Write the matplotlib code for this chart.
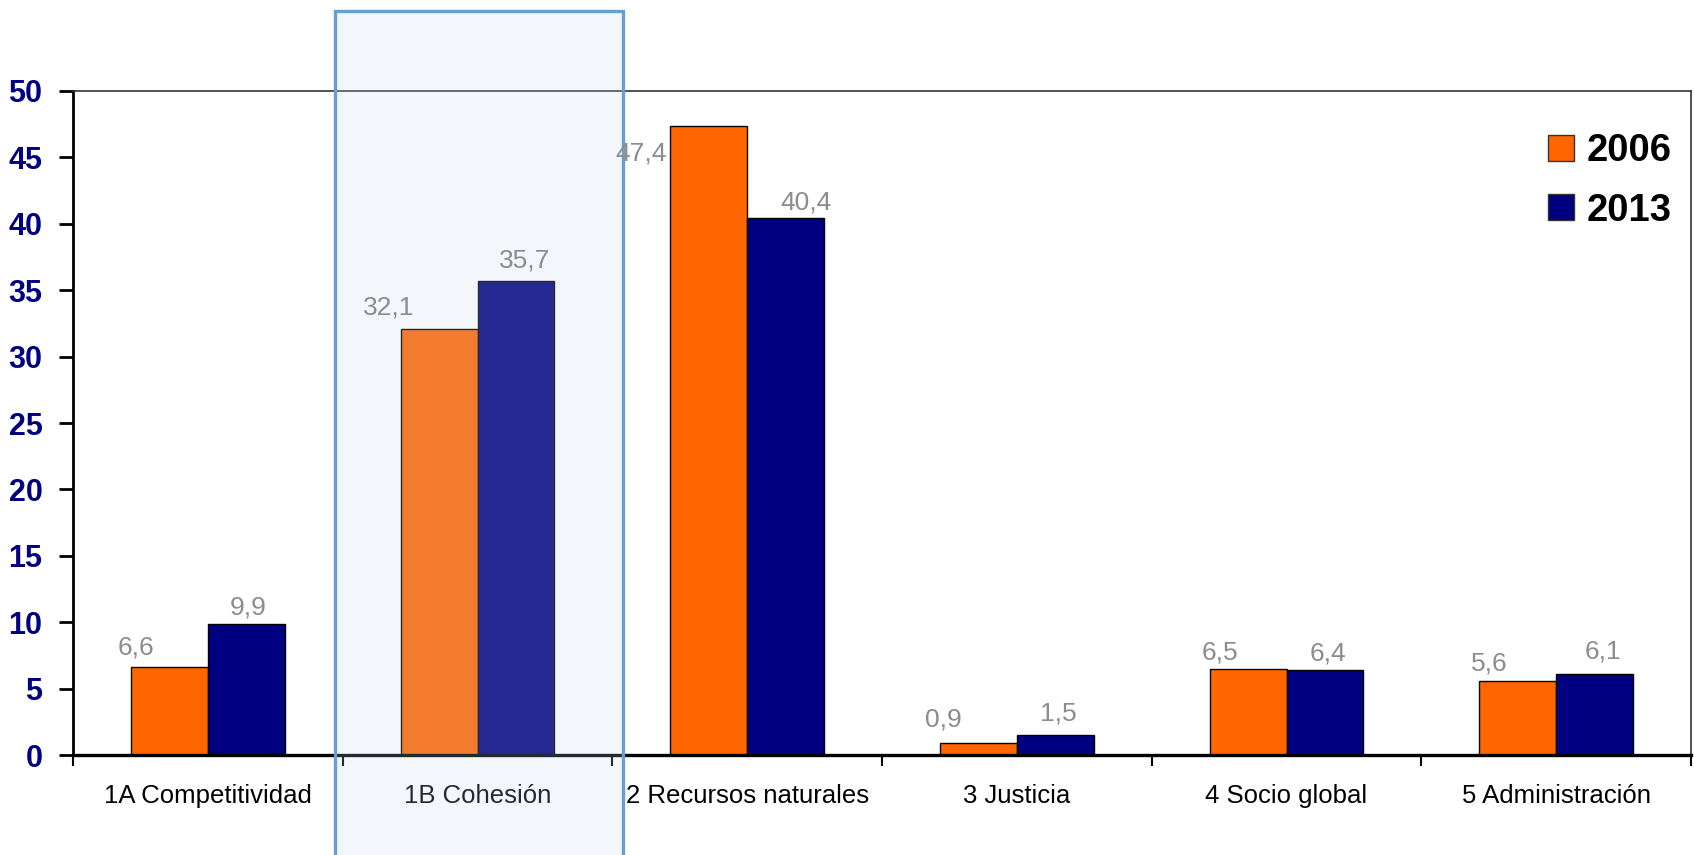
import matplotlib
matplotlib.use("Agg")
import matplotlib.pyplot as plt
from matplotlib.patches import Rectangle, Patch
import numpy as np

# ----------------------------------------------------------------------------------------------------------------------
#  DATA
# ----------------------------------------------------------------------------------------------------------------------
categories  = ['1A Competitividad', '1B Cohesión', '2 Recursos naturales',
               '3 Justicia', '4 Socio global', '5 Administración']
values_2006 = [6.6, 32.1, 47.4, 0.9, 6.5, 5.6]
values_2013 = [9.9, 35.7, 40.4, 1.5, 6.4, 6.1]
series_names = ['2006', '2013']
y_ticks      = [0, 5, 10, 15, 20, 25, 30, 35, 40, 45, 50]
highlight_index = 1

# label offsets (pixels) relative to the top centre of each bar
offsets_2006 = [(-33, 20), (-50, 21), (-68, -28), (-35, 24), (-28, 16), (-28, 17)]
offsets_2013 = [(2, 16), (9, 20), (20, 16), (3, 22), (3, 17), (8, 22)]

# ----------------------------------------------------------------------------------------------------------------------
#  STYLE
# ----------------------------------------------------------------------------------------------------------------------
plt.rcParams['font.family'] = ['Liberation Sans', 'DejaVu Sans']

color_2006  = '#FF6600'
color_2013  = '#000080'
label_color = '#8C8C8C'
tick_color  = '#000080'
bar_width   = 0.285

fig = plt.figure(figsize=(16.94, 8.55), dpi=100)
ax  = fig.add_axes([73/1694, 1 - 755/855, (1691 - 73)/1694, (755 - 91)/855])

x = np.arange(len(categories)) + 0.5

bars_1 = ax.bar(x - bar_width/2, values_2006, bar_width, color=color_2006,
                edgecolor='black', linewidth=1.0, zorder=2, label=series_names[0])
bars_2 = ax.bar(x + bar_width/2, values_2013, bar_width, color=color_2013,
                edgecolor='black', linewidth=1.0, zorder=2, label=series_names[1])

for bars, offs in ((bars_1, offsets_2006), (bars_2, offsets_2013)):
    for b, (dx, dy) in zip(bars, offs):
        val = b.get_height()
        ax.annotate(f'{val:.1f}'.replace('.', ','),
                    xy=(b.get_x() + b.get_width()/2, val),
                    xytext=(dx, dy), textcoords='offset pixels',
                    ha='center', va='center', fontsize=19,
                    color=label_color, zorder=5)

ax.set_xlim(0, len(categories))
ax.set_ylim(0, 50)

# category boundaries as major ticks, names as minor ticks
ax.set_xticks(np.arange(len(categories) + 1))
ax.set_xticklabels([])
ax.set_xticks(x, minor=True)
ax.set_xticklabels(categories, minor=True, fontsize=18.5)
ax.tick_params(axis='x', which='major', direction='out', length=8, width=1.5)
ax.tick_params(axis='x', which='minor', length=0, pad=21)

ax.set_yticks(y_ticks)
ax.set_yticklabels([str(v) for v in y_ticks], fontsize=22, fontweight='bold', color=tick_color)
ax.tick_params(axis='y', direction='out', length=10, width=2, pad=12)

for side in ['top', 'right']:
    ax.spines[side].set_linewidth(1.2)
    ax.spines[side].set_color('#333333')
ax.spines['left'].set_linewidth(2)
ax.spines['bottom'].set_linewidth(2.4)

# highlighted category frame (overlays the bars)
hl = Rectangle((highlight_index - 0.03, -10), 1.07, 66.05,
               facecolor=(195/255, 210/255, 230/255, 0.2),
               edgecolor='#6A9FCC', linewidth=2.4, clip_on=False, zorder=3)
ax.add_patch(hl)

handles = [Patch(facecolor=color_2006, edgecolor='#333333', linewidth=1),
           Patch(facecolor=color_2013, edgecolor='#333333', linewidth=1)]
leg = ax.legend(handles, series_names, loc='upper right',
                bbox_to_anchor=(1672/1694, 1 - 133/855), bbox_transform=fig.transFigure,
                frameon=False, borderpad=0, borderaxespad=0,
                handlelength=0.67, handleheight=0.67,
                handletextpad=0.35, labelspacing=0.62,
                prop={'size': 27.5, 'weight': 'bold'})

fig.savefig('out.png', dpi=100)
